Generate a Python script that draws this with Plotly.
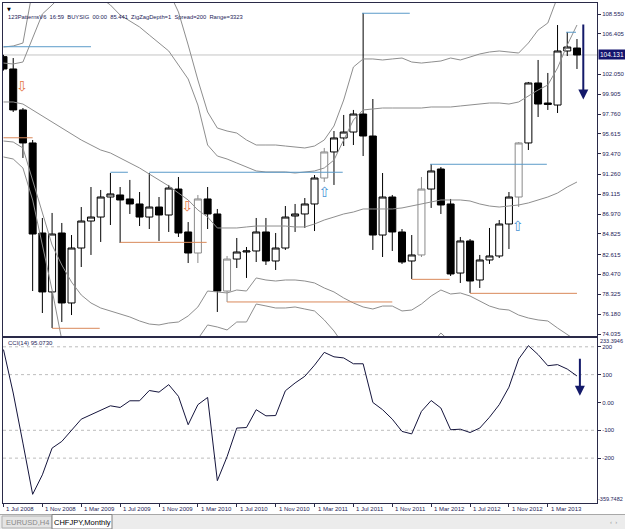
import plotly.graph_objects as go

W, H = 625, 529

# ---------------- data ----------------
bars = list(range(60))  # monthly bars, Jul 2008 .. Jun 2013
date_tick_bars = [0, 4, 8, 12, 16, 20, 24, 28, 32, 36, 40, 44, 48, 52, 56]
date_tick_labels = ["1 Jul 2008", "1 Nov 2008", "1 Mar 2009", "1 Jul 2009", "1 Nov 2009",
                    "1 Mar 2010", "1 Jul 2010", "1 Nov 2010", "1 Mar 2011", "1 Jul 2011",
                    "1 Nov 2011", "1 Mar 2012", "1 Jul 2012", "1 Nov 2012", "1 Mar 2013"]

open_ = [103.95, 102.62, 98.20, 94.64, 84.93, 78.57, 84.93, 77.38, 83.31, 86.22,
         86.65, 88.81, 89.03, 88.60, 88.06, 86.65, 87.73, 86.87, 89.67, 85.04,
         82.77, 88.60, 86.98, 78.67, 82.12, 82.88, 82.99, 85.04, 81.91, 83.31,
         86.76, 86.98, 88.06, 90.86, 93.67, 95.18, 95.82, 97.76, 95.39, 84.71,
         88.81, 85.04, 81.91, 82.56, 89.67, 91.83, 88.06, 80.61, 84.07, 79.86,
         82.02, 82.45, 85.90, 88.81, 94.64, 101.11, 98.95, 98.73, 104.56, 104.88]
high = [104.15, 103.80, 98.41, 94.96, 86.55, 87.09, 86.01, 84.71, 87.73, 89.89,
        89.57, 91.40, 89.89, 90.65, 89.35, 91.40, 88.81, 90.11, 90.97, 86.11,
        89.03, 89.89, 87.52, 82.45, 84.39, 83.42, 86.55, 86.55, 84.93, 87.84,
        88.06, 88.70, 91.18, 94.10, 95.93, 97.66, 98.20, 108.66, 99.38, 91.40,
        89.03, 85.36, 84.71, 90.97, 92.37, 92.05, 88.60, 84.50, 84.28, 82.56,
        85.47, 86.33, 89.35, 94.74, 101.22, 103.59, 102.19, 107.36, 106.61, 105.85]
low = [102.45, 97.98, 93.02, 78.67, 76.30, 74.68, 75.33, 76.08, 81.26, 82.56,
       83.96, 85.79, 83.85, 86.98, 85.68, 85.36, 84.07, 85.04, 84.50, 81.69,
       81.69, 85.36, 76.41, 77.49, 81.15, 80.08, 81.80, 81.48, 80.94, 83.10,
       85.04, 85.47, 85.14, 90.43, 90.11, 94.31, 94.42, 93.23, 83.10, 82.34,
       82.99, 81.59, 79.97, 82.34, 87.63, 86.98, 80.29, 79.54, 78.46, 79.00,
       81.59, 82.23, 83.20, 87.73, 93.88, 97.44, 98.20, 97.87, 104.02, 102.62]
close = [102.62, 98.20, 94.64, 84.82, 78.57, 84.82, 77.38, 83.31, 86.22, 86.65,
         88.81, 89.14, 88.49, 88.06, 86.65, 87.73, 86.87, 89.78, 84.93, 82.77,
         88.60, 86.98, 78.67, 82.12, 82.88, 82.99, 85.04, 81.91, 83.31, 86.65,
         86.98, 88.06, 90.86, 93.67, 95.18, 95.82, 97.76, 95.39, 84.71, 88.81,
         85.04, 81.80, 82.56, 89.67, 91.62, 87.95, 80.51, 84.07, 79.75, 82.02,
         82.45, 85.90, 88.81, 94.64, 101.11, 98.84, 98.80, 104.56, 104.99, 104.131]
grey_bars = [20, 23, 33, 43, 53]

bb_upper_outer = [104.99, 105.10, 105.42, 111.14, 115.5, 118.5, 120.5, 121.5, 122.0, 121.8,
                  121.0, 120.0, 118.8, 117.5, 116.0, 114.5, 113.0, 111.0, 108.77, 105.21,
                  101.43, 97.98, 96.25, 95.93, 95.71, 94.96, 94.42, 94.42, 94.42, 94.31,
                  94.20, 94.10, 94.31, 94.96, 96.47, 99.27, 102.83, 103.70, 103.70, 103.59,
                  103.70, 103.80, 103.37, 103.26, 103.37, 103.48, 103.80, 103.59, 103.91, 104.24,
                  104.45, 104.56, 104.45, 104.34, 105.42, 106.82, 107.58, 110.38, 112.22, 113.84]
bb_upper_inner = [103.26, 103.16, 103.37, 105.96, 108.55, 109.52, 110.60, 111.68, 112.00, 111.35,
                  110.28, 109.52, 108.44, 107.79, 107.15, 106.28, 105.42, 104.56, 103.05, 101.54,
                  98.73, 94.42, 93.23, 92.91, 92.48, 92.05, 91.62, 91.51, 91.51, 91.51,
                  91.40, 91.51, 91.62, 91.94, 92.80, 94.96, 97.12, 98.20, 98.30, 98.41,
                  98.41, 98.41, 98.41, 98.41, 98.52, 98.52, 98.52, 98.63, 98.73, 98.84,
                  98.95, 98.95, 98.84, 99.06, 99.71, 100.35, 100.89, 102.73, 105.21, 107.36]
bb_middle = [99.06, 99.06, 98.84, 98.20, 97.55, 96.90, 96.25, 95.61, 94.96, 94.42,
             93.88, 93.56, 93.02, 92.48, 91.94, 91.29, 90.65, 90.00, 89.24, 88.49,
             87.41, 86.65, 85.47, 85.47, 85.47, 85.58, 85.68, 85.68, 85.68, 85.68,
             85.58, 85.58, 85.90, 86.33, 86.65, 86.98, 87.19, 87.52, 87.52, 87.52,
             87.52, 87.63, 87.84, 88.06, 88.27, 88.49, 88.49, 88.49, 88.38, 88.06,
             87.84, 87.73, 87.84, 87.95, 88.17, 88.49, 88.81, 89.24, 89.89, 90.43]
bb_lower_inner = [94.85, 94.74, 94.10, 90.65, 87.09, 83.63, 81.48, 79.64, 78.24, 77.38,
                  76.84, 76.52, 76.19, 75.87, 75.44, 75.11, 75.01, 75.22, 75.33, 75.98,
                  76.95, 78.67, 78.57, 78.46, 78.78, 78.67, 80.08, 79.86, 79.75, 79.86,
                  79.86, 79.75, 79.54, 79.00, 78.57, 77.92, 77.38, 76.95, 76.73, 77.05,
                  77.05, 76.52, 76.62, 77.27, 78.13, 78.78, 78.35, 78.46, 78.13, 77.59,
                  77.05, 76.73, 76.62, 76.08, 75.76, 75.55, 75.44, 74.68, 73.93, 73.28]
bb_lower_outer = [93.13, 92.91, 91.94, 88.49, 83.63, 78.78, 73.39, 70.15, 67.45, 65.84,
                  64.76, 64.22, 63.90, 63.68, 63.46, 63.36, 63.68, 64.76, 66.92, 70.15,
                  73.50, 75.01, 74.79, 74.47, 75.33, 75.33, 77.27, 77.06, 76.84, 76.84,
                  76.95, 76.73, 76.52, 75.55, 74.36, 72.85, 71.45, 70.69, 70.37, 70.69,
                  71.01, 70.69, 71.01, 72.09, 72.95, 74.14, 73.17, 73.17, 72.63, 71.66,
                  70.80, 70.15, 69.62, 68.53, 67.45, 66.92, 66.38, 64.76, 63.12, 61.52]

cci = [190, 34, -146, -330, -260, -164, -140, -98, -60, -44,
       -29, -12, -18, 6, 6, 43, 37, 64, 22, -80,
       -8, 18, -281, -195, -92, -90, -26, -48, -47, 42,
       70, 94, 134, 180, 164, 160, 139, 139, 0, -26,
       -60, -104, -113, -32, 7, -20, -98, -96, -108, -92,
       -53, -8, 55, 156, 204, 172, 132, 136, 120, 95.073]
cci_levels = [200, 100, -100, -200]
cci_ticks = [200, 100, 0, -100, -200]
cci_tick_labels = ["200", "100", "0.00", "-100", "-200"]
cci_max, cci_min = 233.3946, -359.7482

price_ticks = [108.550, 106.405, 102.050, 99.905, 97.760, 95.615, 93.470, 91.260,
               89.115, 86.970, 84.825, 82.615, 80.470, 78.325, 76.180, 74.035]
price_top, price_bottom = 109.736, 73.819

# resistance (blue) and support (orange) levels: start bar, end bar, price
res_start = [0, 11.0, 15.0, 36.9, 43.9, 57.9]
res_end = [9.0, 12.8, 34.9, 41.8, 55.9, 58.9]
res_level = [105.02, 91.48, 91.48, 108.63, 92.34, 106.58]
sup_start = [0, 5.0, 12.0, 23.0, 42.0, 48.0]
sup_end = [3.0, 9.9, 20.9, 40.0, 45.9, 59.0]
sup_level = [95.20, 74.65, 83.92, 77.49, 79.93, 78.42]

# signal arrows
sell_sig_x = [1.9, 18.9]
sell_sig_y = [100.57, 87.73]
buy_sig_x = [33.0, 52.9]
buy_sig_y = [89.24, 85.47]
# big projected arrows (bar, from, to)
main_arrow = (59.65, 107.58, 99.32)
cci_arrow = (59.3, 162, 24)

x_range = [-0.05, 61.06]

# ---------------- layout helpers ----------------
def fx(px):
    return px / W

def fy(py):
    return 1 - py / H

PL, PR = 3, 597
MAIN_T, MAIN_B = 3, 336
CCI_T, CCI_B = 337.5, 502.6
AXC = '#2a2a48'
TXT = '#1c1c58'
FONT = 'Liberation Sans'

fig = go.Figure()

# Bollinger lines
for arr in [bb_upper_outer, bb_upper_inner, bb_middle, bb_lower_inner, bb_lower_outer]:
    fig.add_trace(go.Scatter(x=bars, y=arr, mode='lines', xaxis='x', yaxis='y',
                             line=dict(color='#8e8e8e', width=1), hoverinfo='skip',
                             showlegend=False))

# candles
norm_idx = [i for i in bars if i not in grey_bars]
def subset(arr, keep):
    return [arr[i] if i in keep else None for i in bars]

for keep, col in [(norm_idx, 'black'), (grey_bars, '#8a8a8a')]:
    fig.add_trace(go.Candlestick(
        x=bars, open=subset(open_, keep), high=subset(high, keep),
        low=subset(low, keep), close=subset(close, keep),
        increasing=dict(line=dict(color=col, width=1), fillcolor='white'),
        decreasing=dict(line=dict(color=col, width=1), fillcolor='black'),
        whiskerwidth=0, xaxis='x', yaxis='y', showlegend=False, hoverinfo='skip'))

# level lines
def seg(xs0, xs1, lv):
    X, Y = [], []
    for a, b, l in zip(xs0, xs1, lv):
        X += [a, b, None]
        Y += [l, l, None]
    return X, Y

rx, ry = seg(res_start, res_end, res_level)
sx, sy = seg(sup_start, sup_end, sup_level)
fig.add_trace(go.Scatter(x=rx, y=ry, mode='lines', line=dict(color='#5b9bc9', width=1),
                         xaxis='x', yaxis='y', hoverinfo='skip', showlegend=False))
fig.add_trace(go.Scatter(x=sx, y=sy, mode='lines', line=dict(color='#d9895a', width=1),
                         xaxis='x', yaxis='y', hoverinfo='skip', showlegend=False))

# signal arrows
fig.add_trace(go.Scatter(x=sell_sig_x, y=sell_sig_y, mode='text', text=['⇩'] * len(sell_sig_x),
                         textfont=dict(family='DejaVu Sans', size=14, color='#e4743f'),
                         xaxis='x', yaxis='y', hoverinfo='skip', showlegend=False))
fig.add_trace(go.Scatter(x=buy_sig_x, y=buy_sig_y, mode='text', text=['⇧'] * len(buy_sig_x),
                         textfont=dict(family='DejaVu Sans', size=14, color='#4a94d4'),
                         xaxis='x', yaxis='y', hoverinfo='skip', showlegend=False))

# CCI levels and line
for lv in cci_levels:
    fig.add_trace(go.Scatter(x=x_range, y=[lv, lv], mode='lines',
                             line=dict(color='#bdbdbd', width=1, dash='dot'),
                             xaxis='x2', yaxis='y2', hoverinfo='skip', showlegend=False))
fig.add_trace(go.Scatter(x=bars, y=cci, mode='lines', line=dict(color='#14143c', width=1),
                         xaxis='x2', yaxis='y2', hoverinfo='skip', showlegend=False))

# current price line
fig.add_shape(type='line', xref='paper', yref='y', x0=fx(PL), x1=fx(PR),
              y0=close[-1], y1=close[-1], line=dict(color='#c4c4c4', width=1), layer='below')

# tab bar
fig.add_shape(type='rect', xref='paper', yref='paper', x0=0, x1=1, y0=fy(529), y1=fy(514.5),
              fillcolor='#ececec', line=dict(width=0), layer='below')
fig.add_shape(type='line', xref='paper', yref='paper', x0=0, x1=1, y0=fy(514.5), y1=fy(514.5),
              line=dict(color='#a8a8a8', width=1))
fig.add_shape(type='rect', xref='paper', yref='paper', x0=fx(2), x1=fx(52), y0=fy(528), y1=fy(516),
              fillcolor='#e4e4e4', line=dict(color='#b0b0b0', width=1))
fig.add_shape(type='rect', xref='paper', yref='paper', x0=fx(52), x1=fx(112), y0=fy(529), y1=fy(514.5),
              fillcolor='white', line=dict(color='#808080', width=1))

ann = []
ann.append(dict(x=fx(5), y=fy(9), xref='paper', yref='paper', text='▼', showarrow=False,
                xanchor='left', yanchor='middle', font=dict(size=5, color='#000', family='DejaVu Sans')))
ann.append(dict(x=fx(6), y=fy(17), xref='paper', yref='paper',
                text='123PatternsV6  16:59  BUYSIG  00:00  85.441  ZigZagDepth=1  Spread=200  Range=3323'.replace('  ', '\u00a0\u00a0'),
                showarrow=False, xanchor='left', yanchor='middle',
                font=dict(size=5.8, color=TXT, family=FONT)))
ann.append(dict(x=fx(6), y=fy(343), xref='paper', yref='paper', text='CCI(14) 95.0730',
                showarrow=False, xanchor='left', yanchor='middle',
                font=dict(size=6, color=TXT, family=FONT)))
ann.append(dict(x=fx(598), y=close[-1], xref='paper', yref='y', text='%.3f' % close[-1],
                showarrow=False, xanchor='left', yanchor='middle', bgcolor='#14146e',
                borderpad=1, font=dict(size=6.5, color='white', family=FONT)))
ann.append(dict(x=fx(624.5), y=fy(341), xref='paper', yref='paper', text='%.4f' % cci_max,
                showarrow=False, xanchor='right', yanchor='middle',
                font=dict(size=5.5, color=TXT, family=FONT)))
ann.append(dict(x=fx(624.5), y=fy(499), xref='paper', yref='paper', text='%.4f' % cci_min,
                showarrow=False, xanchor='right', yanchor='middle',
                font=dict(size=5.5, color=TXT, family=FONT)))
# date labels (left-aligned next to their tick, MT4 style)
for b, lab in zip(date_tick_bars, date_tick_labels):
    ann.append(dict(x=b, y=fy(508.5), xref='x2', yref='paper', text=lab, showarrow=False,
                    xanchor='left', yanchor='middle', xshift=1,
                    font=dict(size=6, color=TXT, family=FONT)))
ann.append(dict(x=main_arrow[0], y=main_arrow[2], ax=main_arrow[0], ay=main_arrow[1],
                xref='x', yref='y', axref='x', ayref='y', text='', showarrow=True,
                arrowhead=2, arrowsize=1, arrowwidth=2, arrowcolor='#141a6a'))
ann.append(dict(x=cci_arrow[0], y=cci_arrow[2], ax=cci_arrow[0], ay=cci_arrow[1],
                xref='x2', yref='y2', axref='x2', ayref='y2', text='', showarrow=True,
                arrowhead=2, arrowsize=1, arrowwidth=2, arrowcolor='#141a6a'))
ann.append(dict(x=fx(27), y=fy(522), xref='paper', yref='paper', text='EURUSD,H4',
                showarrow=False, xanchor='center', yanchor='middle',
                font=dict(size=7.5, color='#8a8a8a', family=FONT)))
ann.append(dict(x=fx(82), y=fy(522), xref='paper', yref='paper', text='CHFJPY,Monthly',
                showarrow=False, xanchor='center', yanchor='middle',
                font=dict(size=7.5, color='#000', family=FONT)))
ann.append(dict(x=fx(613), y=fy(522), xref='paper', yref='paper', text='‹  ›',
                showarrow=False, xanchor='center', yanchor='middle',
                font=dict(size=6, color='#9a9a9a', family=FONT)))

axis_common = dict(showgrid=False, zeroline=False, showline=True, linecolor=AXC,
                   linewidth=1, mirror=True, fixedrange=True)

fig.update_layout(
    width=W, height=H, margin=dict(l=0, r=0, t=0, b=0),
    paper_bgcolor='white', plot_bgcolor='white', showlegend=False,
    boxgap=0.1, boxgroupgap=0.2,
    xaxis=dict(domain=[fx(PL), fx(PR)], range=x_range, anchor='y', showticklabels=False,
               ticks='', rangeslider=dict(visible=False), **axis_common),
    yaxis=dict(domain=[fy(MAIN_B), fy(MAIN_T)], range=[price_bottom, price_top], anchor='x',
               side='right', tickvals=price_ticks, ticktext=['%.3f' % v for v in price_ticks],
               ticks='outside', ticklen=3, tickcolor=AXC,
               tickfont=dict(size=6, color=TXT, family=FONT), **axis_common),
    xaxis2=dict(domain=[fx(PL), fx(PR)], range=x_range, anchor='y2',
                tickvals=date_tick_bars, showticklabels=False, ticks='outside', ticklen=3,
                tickcolor=AXC, **axis_common),
    yaxis2=dict(domain=[fy(CCI_B), fy(CCI_T)], range=[cci_min, cci_max], anchor='x2',
                side='right', tickvals=cci_ticks, ticktext=cci_tick_labels,
                ticks='outside', ticklen=3, tickcolor=AXC,
                tickfont=dict(size=6, color=TXT, family=FONT), **axis_common),
    annotations=ann,
)

fig.write_html("out.html", config=dict(displayModeBar=False))
